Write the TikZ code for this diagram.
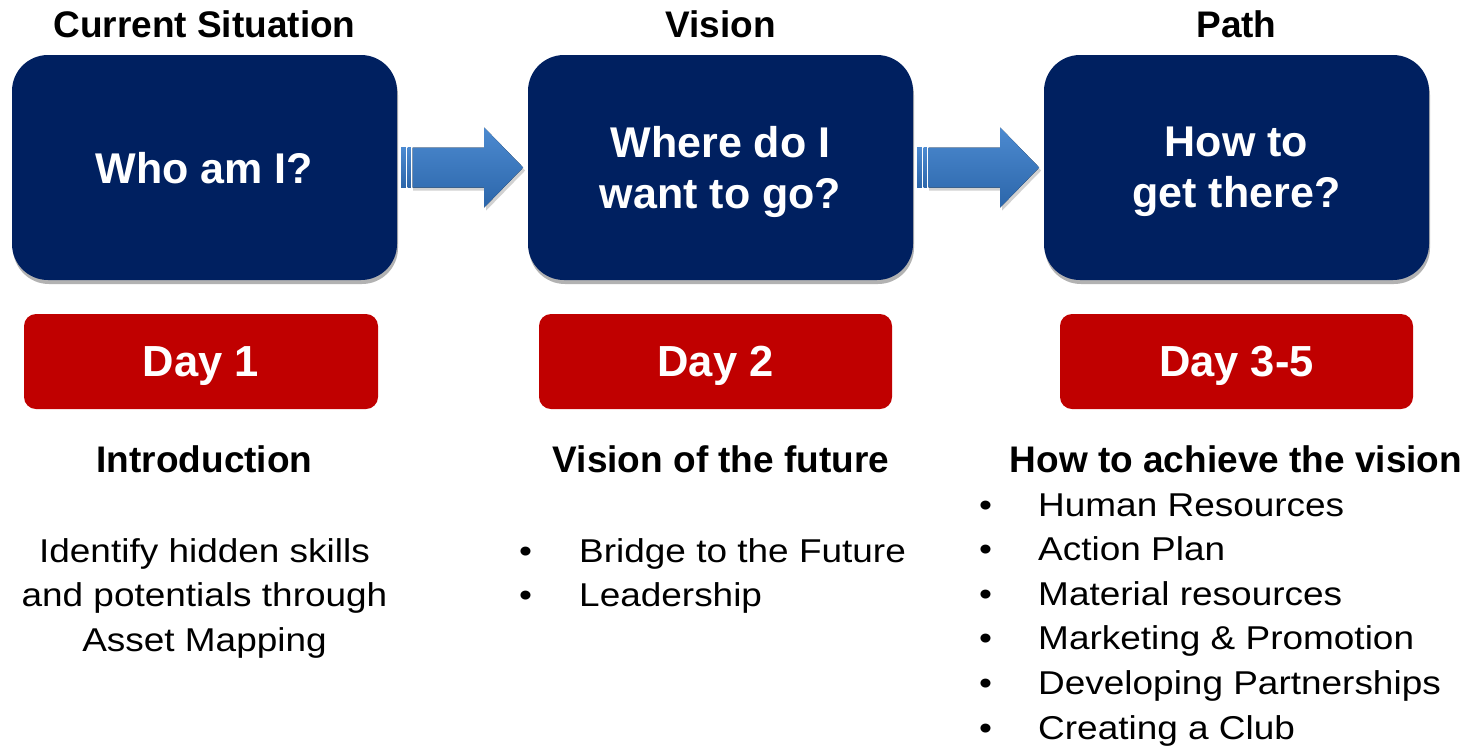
\documentclass[tikz,border=0pt]{standalone}
\usepackage{fontspec}
\setmainfont{Liberation Sans}
\newfontfamily\bodyfont[FakeStretch=1.12]{Liberation Sans}
\usetikzlibrary{shadows,calc}
\definecolor{navy}{HTML}{002060}
\definecolor{dayred}{HTML}{C00000}
\definecolor{arrtop}{HTML}{4C8AD0}
\definecolor{arrbot}{HTML}{2C66AA}
\begin{document}
\begin{tikzpicture}[x=1pt,y=-1pt,
  bluebox/.style={fill=navy, rounded corners=36pt, minimum width=385pt, minimum height=225pt,
    inner sep=0pt, text=white, align=center, text depth=0pt,
    font=\fontsize{43}{51}\selectfont\bfseries,
    drop shadow={shadow xshift=1pt, shadow yshift=-4pt, opacity=0.3, fill=black}},
  redbox/.style={fill=dayred, rounded corners=12pt, minimum height=95pt,
    inner sep=0pt, text=white, text depth=0pt, font=\fontsize{43.5}{50}\selectfont\bfseries},
  heading/.style={anchor=base, inner sep=0pt, font=\fontsize{37}{44}\selectfont\bfseries},
  bodyline/.style={anchor=base, inner sep=0pt, font=\bodyfont\fontsize{33}{44}\selectfont},
  itemline/.style={anchor=base west, inner sep=0pt, font=\bodyfont\fontsize{33}{44}\selectfont},
  arrowshade/.style={top color=arrtop, bottom color=arrbot, draw=none},
  arrowshadow/.style={fill=black, opacity=0.18}
]
\useasboundingbox (0,0) rectangle (1467,748);

% top titles
\node[heading] (t1) at (204.5,37) {Current Situation};
\node[heading] (t2) at (720.5,37) {Vision};
\node[heading] (t3) at (1236.5,37) {Path};

% blue boxes
\node[bluebox] (b1) at (204.5,167.5) {Who am I?};
\node[bluebox] (b2) at (720.5,167.5) {Where do I\\want to go?};
\node[bluebox] (b3) at (1236.5,167.5) {How to\\get there?};

% red day boxes
\node[redbox, minimum width=354pt] (d1) at (201,361.5) {Day 1};
\node[redbox, minimum width=353pt] (d2) at (715.5,361.5) {Day 2};
\node[redbox, minimum width=353pt] (d3) at (1236.5,361.5) {Day 3-5};

% block arrows between boxes
\foreach \src in {b1,b2}{
  \begin{scope}[shift={(\src.east)}]
    \fill[arrowshadow] (16,-17) -- (89,-17) -- (89,-37) -- (128,3) -- (89,43) -- (89,23) -- (16,23) -- cycle;
    \fill[arrowshade] (4,-20) rectangle (8.7,20);
    \fill[arrowshade] (10.3,-20) rectangle (13.7,20);
    \fill[arrowshade] (15.3,-20) -- (87,-20) -- (87,-40) -- (126,0) -- (87,40) -- (87,20) -- (15.3,20) -- cycle;
  \end{scope}
}

% section headings
\node[heading] (h1) at (204.5,472) {Introduction};
\node[heading] (h2) at (721,472) {Vision of the future};
\node[heading] (h3) at (1236,472) {How to achieve the vision};

% column 1 text
\node[bodyline] (c1a) at (204.5,562) {Identify hidden skills};
\node[bodyline] (c1b) at (204.5,606.5) {and potentials through};
\node[bodyline] (c1c) at (204.5,651) {Asset Mapping};

% column 2 bullets
\node[itemline] (c2ba) at (519,562) {•};
\node[itemline] (c2a) at (579,562) {Bridge to the Future};
\node[itemline] (c2bb) at (519,606.5) {•};
\node[itemline] (c2b) at (579,606.5) {Leadership};

% column 3 bullets
\node[itemline] (c3ba) at (979,516) {•};
\node[itemline] (c3a) at (1038,516) {Human Resources};
\node[itemline] (c3bb) at (979,560.6) {•};
\node[itemline] (c3b) at (1038,560.6) {Action Plan};
\node[itemline] (c3bc) at (979,605.2) {•};
\node[itemline] (c3c) at (1038,605.2) {Material resources};
\node[itemline] (c3bd) at (979,649.8) {•};
\node[itemline] (c3d) at (1038,649.8) {Marketing \& Promotion};
\node[itemline] (c3be) at (979,694.4) {•};
\node[itemline] (c3e) at (1038,694.4) {Developing Partnerships};
\node[itemline] (c3bf) at (979,739) {•};
\node[itemline] (c3f) at (1038,739) {Creating a Club};
\end{tikzpicture}
\end{document}
